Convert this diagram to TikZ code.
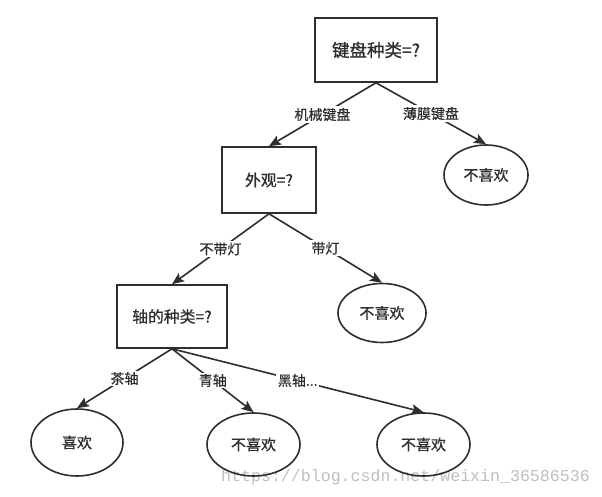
\documentclass[tikz,border=0pt]{standalone}
\usepackage{fontspec}
\newfontfamily\cjk[FakeBold=0.8]{Noto Sans CJK SC}
\newfontfamily\cjkl[FakeBold=0.5]{Noto Sans CJK SC}
\newfontfamily\wmfont{Liberation Mono}
\usetikzlibrary{shapes.geometric,arrows.meta}
\definecolor{ink}{HTML}{2E2E2E}
\tikzset{
  qbox/.style={draw=ink, line width=1.6pt, rectangle, inner sep=0pt, text=ink, font=\cjk\fontsize{15.8}{18}\selectfont},
  bigq/.style={font=\cjk\fontsize{17.5}{20}\selectfont},
  leaf/.style={draw=ink, line width=1.6pt, ellipse, inner sep=0pt, text=ink, font=\cjk\fontsize{15}{17}\selectfont},
  edge/.style={draw=ink, line width=1.6pt, -{Stealth[length=12pt,width=10pt,inset=2.5pt]}},
  elabel/.style={fill=white, inner sep=1.5pt, text=ink, font=\cjkl\fontsize{14}{16}\selectfont, midway}
}
\begin{document}
\begin{tikzpicture}[x=1pt,y=-1pt]
\useasboundingbox (0,0) rectangle (602,497);
\fill[white] (0,0) rectangle (602,497);
% watermark
\node[anchor=center, text=black!25, font=\wmfont\fontsize{16.6}{18}\selectfont, inner sep=0pt] (wm) at (405.5,477) {https://blog.csdn.net/weixin\_36586536};
% question boxes
\node[qbox, bigq, minimum width=122pt, minimum height=64pt] (q1) at (376,50) {键盘种类=?};
\node[qbox, minimum width=94pt, minimum height=66pt] (q2) at (269,180) {外观=?};
\node[qbox, minimum width=110pt, minimum height=63pt] (q3) at (172,316.5) {轴的种类=?};
% leaves
\node[leaf, minimum width=84pt, minimum height=60pt] (l1) at (486,175) {不喜欢};
\node[leaf, minimum width=88pt, minimum height=59pt] (l2) at (382,313) {不喜欢};
\node[leaf, minimum width=92pt, minimum height=67pt] (l3) at (77,442.5) {喜欢};
\node[leaf, minimum width=93pt, minimum height=63pt] (l4) at (253.5,444.5) {不喜欢};
\node[leaf, minimum width=93pt, minimum height=63pt] (l5) at (423.5,444.5) {不喜欢};
% edges
\draw[edge] (q1.south) -- node[elabel] {机械键盘} (q2.north);
\draw[edge] (q1.south) -- node[elabel] {薄膜键盘} (l1.north);
\draw[edge] (q2.south) -- node[elabel] {不带灯} (q3.north);
\draw[edge] (q2.south) -- node[elabel] {带灯} (l2.north);
\draw[edge] (q3.south) -- node[elabel] {茶轴} (l3.north);
\draw[edge] (q3.south) -- node[elabel] {青轴} (l4.north);
\draw[edge] (q3.south) -- node[elabel] {黑轴...} (l5.north);
\end{tikzpicture}
\end{document}
